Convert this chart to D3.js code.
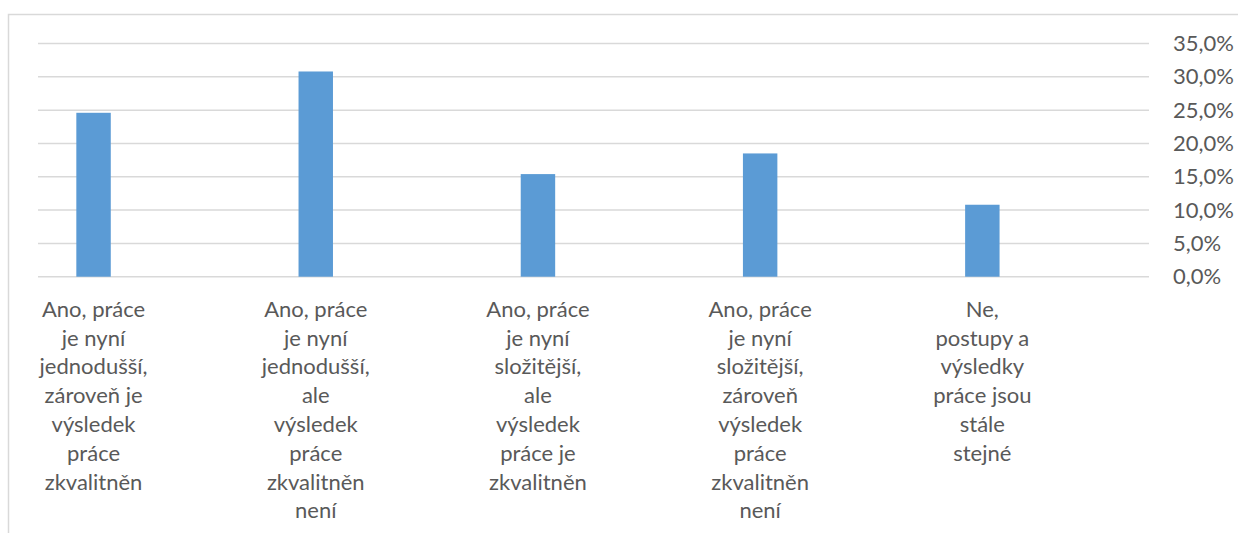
<!DOCTYPE html>
<html>
<head>
<meta charset="utf-8">
<script src="https://cdn.jsdelivr.net/npm/d3@7"></script>
<style>
  body { margin: 0; background: #fff; }
  text { font-family: Lato, "Open Sans", sans-serif; fill: #595959; }
</style>
</head>
<body>
<div id="chart"></div>
<script>
// categories (wrapped the same way as in the original chart)
var categories = [
    ["Ano, práce", "je nyní", "jednodušší,", "zároveň je", "výsledek", "práce", "zkvalitněn"],
    ["Ano, práce", "je nyní", "jednodušší,", "ale", "výsledek", "práce", "zkvalitněn", "není"],
    ["Ano, práce", "je nyní", "složitější,", "ale", "výsledek", "práce je", "zkvalitněn"],
    ["Ano, práce", "je nyní", "složitější,", "zároveň", "výsledek", "práce", "zkvalitněn", "není"],
    ["Ne,", "postupy a", "výsledky", "práce jsou", "stále", "stejné"]
];
// share of answers
var values = [0.246, 0.308, 0.154, 0.185, 0.108];
var yTicks = [0, 0.05, 0.10, 0.15, 0.20, 0.25, 0.30, 0.35];

var width = 1238, height = 533;
var plot = { left: 38, right: 1149, top: 43.5, bottom: 276.7 };

var svg = d3.select("#chart").append("svg")
    .attr("width", width)
    .attr("height", height);

// chart frame (runs off the picture to the right and bottom)
svg.append("rect")
    .attr("x", 8.5).attr("y", 14.5)
    .attr("width", width).attr("height", height)
    .attr("fill", "none")
    .attr("stroke", "#d9d9d9")
    .attr("stroke-width", 1.5);

var keys = categories.map(function (d, i) { return i; });
var xScale = d3.scaleBand().domain(keys).range([plot.left, plot.right]).padding(0);
var yScale = d3.scaleLinear().domain([0, 0.35]).range([plot.bottom, plot.top]);

var locale = d3.formatLocale({ decimal: ",", thousands: " ", grouping: [3], currency: ["", " Kč"] });
var pct = locale.format(".1%");

// gridlines
svg.append("g").attr("class", "gridLines").selectAll("line")
    .data(yTicks)
    .enter().append("line")
    .attr("x1", plot.left)
    .attr("x2", plot.right)
    .attr("y1", function (d) { return yScale(d); })
    .attr("y2", function (d) { return yScale(d); })
    .attr("stroke", "#d9d9d9")
    .attr("stroke-width", 1.5);

// right axis labels
var yAxis = d3.axisRight(yScale).tickValues(yTicks).tickSize(0).tickPadding(24)
    .tickFormat(function (d) { return pct(d); });
var yAxisG = svg.append("g").attr("class", "rightAxis")
    .attr("transform", "translate(" + plot.right + ",0)")
    .call(yAxis);
yAxisG.select(".domain").remove();
yAxisG.selectAll("text")
    .attr("font-size", 22)
    .attr("font-family", "Lato, sans-serif")
    .attr("fill", "#595959");

// bars sit in the left half of each category slot
var barW = xScale.bandwidth() * 0.155;
var barCenter = function (i) { return xScale(i) + xScale.bandwidth() * 0.25; };

svg.append("g").attr("class", "bars").selectAll("rect")
    .data(values)
    .enter().append("rect")
    .attr("x", function (d, i) { return barCenter(i) - barW / 2; })
    .attr("y", function (d) { return yScale(d); })
    .attr("width", barW)
    .attr("height", function (d) { return yScale(0) - yScale(d); })
    .attr("fill", "#5b9bd5");

// category labels
var labels = svg.append("g").attr("class", "catLabels").selectAll("text")
    .data(categories)
    .enter().append("text")
    .attr("text-anchor", "middle")
    .attr("font-size", 22)
    .attr("y", 316.7);
labels.selectAll("tspan")
    .data(function (d, i) { return d.map(function (t) { return { t: t, i: i }; }); })
    .enter().append("tspan")
    .attr("x", function (d) { return barCenter(d.i); })
    .attr("dy", function (d, j) { return j === 0 ? 0 : 28.8; })
    .text(function (d) { return d.t; });
</script>
</body>
</html>
